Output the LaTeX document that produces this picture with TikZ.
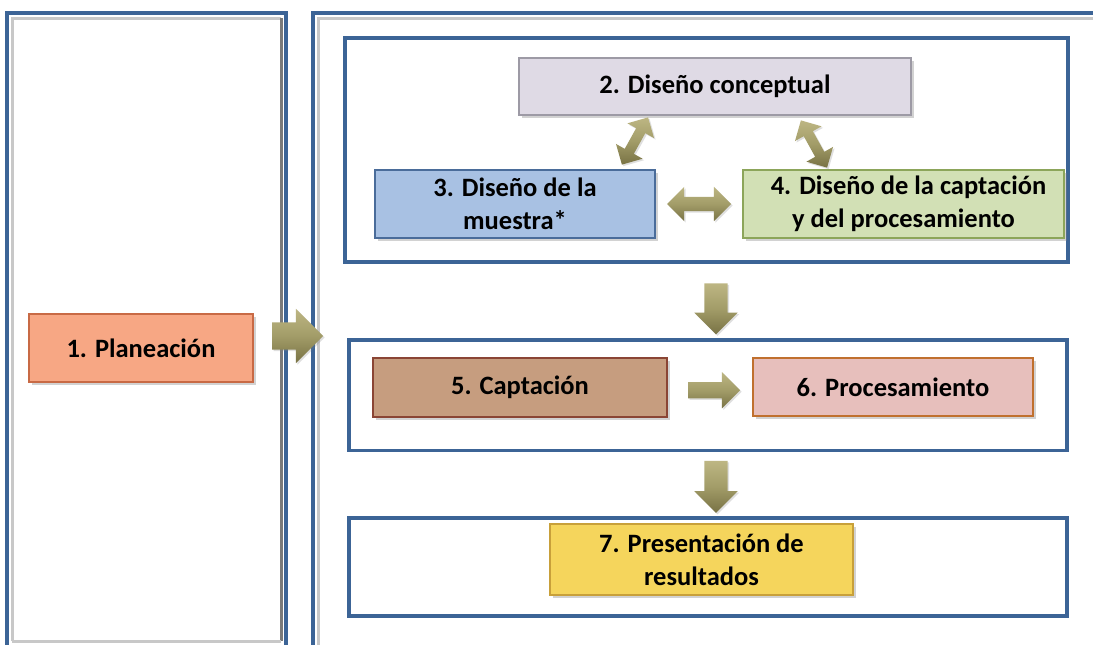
\documentclass[tikz,border=0pt]{standalone}
\usepackage{fontspec}
\setmainfont{Carlito}
\usetikzlibrary{shapes.arrows,shadows,calc}
\definecolor{panelblue}{HTML}{3C6496}
\definecolor{bevel}{HTML}{C8C8C8}
\definecolor{bevdark}{HTML}{7A7A7A}
\definecolor{arrlight}{HTML}{BDB683}
\definecolor{arrmid}{HTML}{A29C68}
\definecolor{arrdark}{HTML}{787244}
\definecolor{c2f}{HTML}{DFDAE5}\definecolor{c2d}{HTML}{9D9AA5}
\definecolor{c3f}{HTML}{A8C1E3}\definecolor{c3d}{HTML}{4A6C9A}
\definecolor{c4f}{HTML}{D2E0B5}\definecolor{c4d}{HTML}{8CA55A}
\definecolor{c1f}{HTML}{F7A784}\definecolor{c1d}{HTML}{C86A45}
\definecolor{c5f}{HTML}{C69D7F}\definecolor{c5d}{HTML}{8A4535}
\definecolor{c6f}{HTML}{E7BFBC}\definecolor{c6d}{HTML}{C0702E}
\definecolor{c7f}{HTML}{F5D55C}\definecolor{c7d}{HTML}{C8A03A}
\begin{document}
\begin{tikzpicture}[x=1pt,y=-1pt,
  stepbox/.style={rectangle, draw, line width=1.2pt, inner sep=2pt, align=center,
    font=\fontsize{26.5}{33}\selectfont\bfseries, text=black,
    drop shadow={shadow xshift=2.5pt, shadow yshift=-2.5pt, opacity=0.35}},
  groupbox/.style={rectangle, draw=panelblue, line width=3.5pt, inner sep=0pt},
  blockarrow/.style={single arrow, draw=none, inner xsep=0pt, text height=0pt, text depth=0pt,
    single arrow head indent=0pt, top color=arrlight, bottom color=arrdark, middle color=arrmid,
    drop shadow={shadow xshift=1.5pt, shadow yshift=-1.5pt, opacity=0.25}},
  dblarrow/.style={double arrow, draw=none, inner xsep=0pt, text height=0pt, text depth=0pt,
    double arrow head indent=0pt, top color=arrlight, bottom color=arrdark, middle color=arrmid,
    drop shadow={shadow xshift=1.5pt, shadow yshift=-1.5pt, opacity=0.25}}
]
\useasboundingbox (0,0) rectangle (1093,645);
\clip (0,0) rectangle (1093,645);
\fill[white] (0,0) rectangle (1093,645);

% outer panels
\draw[bevel, line width=3pt] (12,641) |- (281,18);
\draw[bevdark, line width=3pt] (281,18) -- (281,641);
\draw[bevel, line width=3pt] (12,641) -- (281,641);
\draw[panelblue, line width=4pt] (7,700) |- (286,13) -- (286,700);
\coordinate (pl) at (286,340);

\draw[bevel, line width=3pt] (318,700) |- (1100,18);
\draw[panelblue, line width=4pt] (313,700) |- (1100,13);
\coordinate (pr) at (313,340);

% group boxes
\node[groupbox, minimum width=723pt, minimum height=224pt] (gA) at (706.5,150) {};
\node[groupbox, minimum width=718pt, minimum height=110.5pt] (gB) at (708,395) {};
\node[groupbox, minimum width=718pt, minimum height=98pt] (gC) at (708,567) {};

% steps
\node[stepbox, fill=c1f, draw=c1d, minimum width=224pt, minimum height=68pt] (n1) at (141,348) {1. Planeación};
\node[stepbox, fill=c2f, draw=c2d, minimum width=392pt, minimum height=57pt] (n2) at (715,86.5) {2. Diseño conceptual};
\node[stepbox, fill=c3f, draw=c3d, minimum width=280pt, minimum height=68pt] (n3) at (515,204) {3. Diseño de la\\muestra*};
\node[stepbox, fill=c4f, draw=c4d, minimum width=321pt, minimum height=68pt] (n4) at (903.5,204) {\hspace*{10pt}4. Diseño de la captación\\y del procesamiento};
\node[stepbox, fill=c5f, draw=c5d, minimum width=294pt, minimum height=59pt] (n5) at (520,387.5) {5. Captación};
\node[stepbox, fill=c6f, draw=c6d, minimum width=280pt, minimum height=58pt] (n6) at (893,387) {6. Procesamiento};
\node[stepbox, fill=c7f, draw=c7d, minimum width=303pt, minimum height=71pt] (n7) at (701.5,559.5) {7. Presentación de\\resultados};

% block arrows
\node[blockarrow, minimum height=51pt, inner ysep=13.5pt, single arrow head extend=13.5pt] (a1) at ($(pl)!0.4!(pr)+(-6,-4)$) {};
\node[blockarrow, minimum height=51pt, inner ysep=11.5pt, single arrow head extend=10pt, rotate=-90] (a2) at (716,303) {};
\node[blockarrow, minimum height=52pt, inner ysep=8pt, single arrow head extend=10pt] (a3) at ($(n5.east)!0.5!(n6.west)+(0,3)$) {};
\node[blockarrow, minimum height=52pt, inner ysep=11.5pt, single arrow head extend=10pt, rotate=-90] (a4) at (716,481) {};
\node[dblarrow, minimum height=64pt, inner ysep=7pt, double arrow head extend=10pt] (a5) at ($(n3.east)!0.5!(n4.west)$) {};
\node[dblarrow, minimum height=54pt, inner ysep=5pt, double arrow head extend=10pt, rotate=61] (a6) at (635,141) {};
\node[dblarrow, minimum height=54pt, inner ysep=5pt, double arrow head extend=10pt, rotate=119] (a7) at (814,144) {};
\end{tikzpicture}
\end{document}
